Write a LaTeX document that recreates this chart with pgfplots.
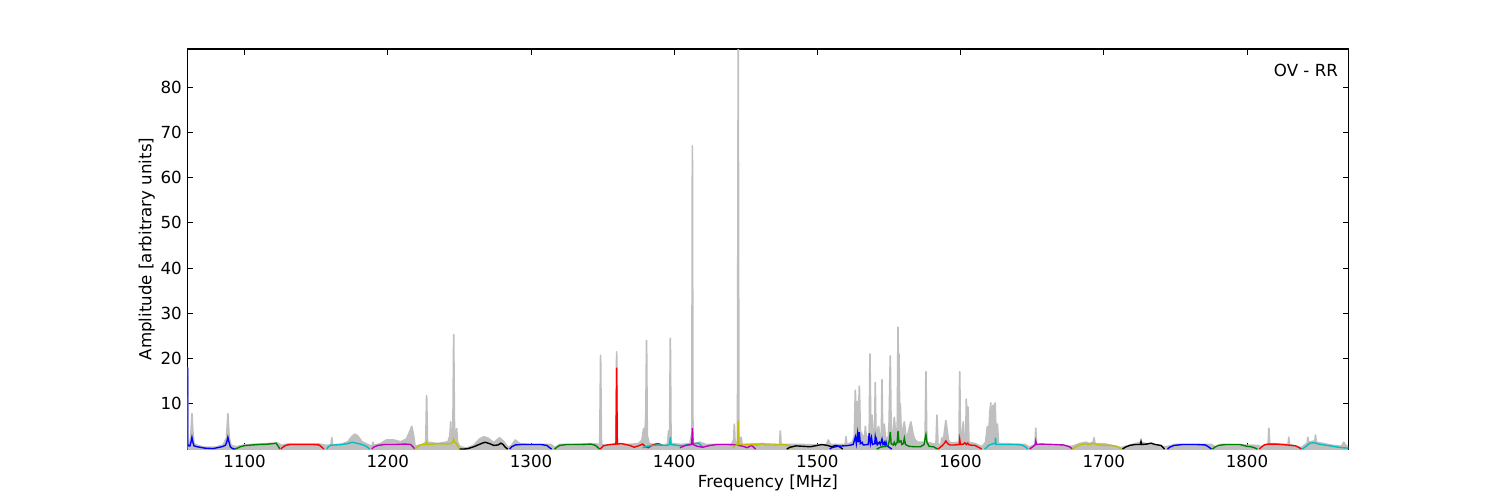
\documentclass[border=0pt,12pt]{standalone}
\usepackage{fontspec}
\setmainfont{DejaVu Sans}
\usepackage{pgfplots}
\pgfplotsset{compat=1.18}
\definecolor{mb}{rgb}{0,0,1}
\definecolor{mg}{rgb}{0,0.5,0}
\definecolor{mr}{rgb}{1,0,0}
\definecolor{mc}{rgb}{0,0.75,0.75}
\definecolor{mm}{rgb}{0.75,0,0.75}
\definecolor{my}{rgb}{0.75,0.75,0}
\definecolor{mk}{rgb}{0,0,0}
\definecolor{gfill}{rgb}{0.75,0.75,0.75}
\begin{document}
\begin{tikzpicture}
\useasboundingbox (-135.1pt,-36.7pt) rectangle (944.9pt,323.3pt);
\begin{axis}[
  at={(0,0)}, anchor=south west,
  scale only axis, width=835.6pt, height=288pt,
  xmin=1060.2, xmax=1870.7, ymin=0, ymax=88.4,
  xtick={1100,1200,...,1800}, ytick={10,20,...,80},
  /pgf/number format/assume math mode=true,
  /pgf/number format/1000 sep={},
  tick align=inside, major tick length=4pt,
  tick style={black, line width=0.6pt},
  axis line style={line width=0.8pt},
  font=\fontsize{12}{14}\selectfont,
  tick label style={font=\fontsize{12}{14}\selectfont},
  xlabel={Frequency [MHz]}, ylabel={Amplitude [arbitrary units]},
  xlabel style={yshift=3pt},
  ylabel style={yshift=-4pt},
  clip=true,
]
% gray spectrum
\addplot[draw=gfill, fill=gfill, line width=1.2pt, line join=round] coordinates {
(1060.2,18)(1060.4,1.5)(1061.8,1)(1062.6,4)(1063.2,7.8)(1063.8,4)(1064.6,1.2)(1067,0.8)(1072,0.4)(1080,0.4)(1085,0.9)
(1087.4,2.5)(1088.3,7.8)(1089.2,2.5)(1090.5,0.8)(1094,0.5)(1100,0.9)(1110,1.1)(1123,1.3)(1126,0.8)(1130,1.1)(1152,1.1)
(1157,0.8)(1160.4,0.9)(1160.9,2.5)(1161.4,0.9)(1168,1.1)(1172,1.6)(1175,2.8)(1177,3.3)(1179,2.9)(1182,1.6)(1186,1.0)
(1189,0.6)(1189.6,1.5)(1190.2,0.8)(1195,1.2)(1199,2.0)(1204,2.0)(1209,1.6)(1213,2.2)(1215.5,4.0)(1216.7,5.0)(1218,3.0)
(1219,0.6)(1224,1.0)(1226.5,1.5)(1227.1,11.8)(1227.7,1.5)(1235,1.2)(1242,1.6)(1243.4,3)(1243.9,6)(1244.4,2)(1245.4,2)
(1246.0,25.3)(1246.6,2.5)(1247.5,3)(1248.1,4.5)(1248.7,1.5)(1250.5,0.5)(1255,0.2)(1260,0.8)(1264,2.2)(1267,2.7)(1270,2.4)
(1274,1.4)(1278,2.5)(1281,1.6)(1284,0.3)(1286.5,0.8)(1289,2)(1292,1.2)(1300,1.0)(1314,1.0)(1316.5,0.3)(1320,1.0)
(1345,1.1)(1348,1.0)(1348.6,20.7)(1349.2,1)(1352,0.8)(1359.3,1.2)(1359.8,21.5)(1360.3,1.2)(1368,1.0)(1375,1.2)
(1377.5,2)(1378.6,4.5)(1379.5,2.5)(1380.2,8)(1380.7,24)(1381.2,3)(1382.5,1.2)(1386,1.0)(1393,0.8)(1395.5,1.2)
(1396.0,4)(1396.5,1.2)(1396.8,3)(1397.3,24.5)(1397.8,1.2)(1405,1.0)(1411,1.2)(1412,3)(1412.3,1.2)(1412.7,67)(1413.1,1.2)
(1418,1.5)(1422,1.0)(1440,1.0)(1441.5,2)(1442.0,5.5)(1442.5,1.5)(1444.2,1.5)(1444.7,88.4)(1445.2,1.5)(1446.8,2.6)
(1447.4,1.0)(1460,1.2)(1473.6,1.0)(1474.1,4)(1474.6,1.0)(1490,1.0)(1506,0.8)(1507.6,2)(1509,1.0)(1519.5,1.0)
(1520.0,2.7)(1520.5,1.0)(1524.5,1.5)(1525.8,3)(1526.5,13)(1527.1,4)(1527.7,10.5)(1528.4,4)(1529.3,13.9)(1530.0,4)
(1531.5,3)(1533.0,2.5)(1533.5,5)(1534.2,2.5)(1536.2,3)(1536.7,21)(1537.3,4)(1538.1,7.5)(1538.9,3)(1540.0,3)
(1540.4,14.7)(1540.9,3)(1542.7,5)(1543.5,3)(1544.7,3)(1545.1,15.3)(1545.6,3)(1546.7,5.5)(1547.5,2.5)(1549.5,2.5)
(1550.1,6)(1550.9,20.6)(1551.5,4)(1552.5,3)(1553.7,7)(1554.7,3)(1555.8,5)(1556.3,26.9)(1556.7,12)(1557.0,21)
(1557.5,6)(1557.9,10)(1558.6,3)(1559.5,4)(1560.7,6)(1562,2.5)(1563,3)(1565.3,6)(1567,3)(1568.3,2)(1570,1.5)
(1575.2,1.5)(1575.8,17.1)(1576.4,1.5)(1582.8,1.0)(1583.5,7.5)(1584.2,1.0)(1586.3,1.0)(1586.8,2.5)(1587.3,1.0)
(1588,2)(1589.7,6.3)(1591.5,2)(1593,1.3)(1598.9,1.5)(1599.4,17.1)(1599.9,2)(1601.2,4)(1601.9,6)(1602.6,2)(1603.6,2)
(1604.0,11)(1604.6,3)(1605.2,9.3)(1605.8,1.5)(1610,1.2)(1615,0.5)(1617.5,1.5)(1618.7,5)(1619.6,2.5)(1620.4,8)
(1621.1,10.2)(1621.8,3)(1622.7,9.7)(1623.4,3)(1624.1,10.2)(1624.8,3)(1625.7,5.5)(1626.5,1.2)(1645,1.0)(1648,0.4)
(1652.0,1.0)(1652.5,4.6)(1653.0,1.0)(1678,0.6)(1683,1.2)(1687.6,1.5)(1690,1.2)(1692.6,1.5)(1693.2,2.5)(1693.8,1.2)
(1700,1.2)(1712,0.3)(1720,1.0)(1726,1.5)(1732,1.0)(1742,0.5)(1745,0.6)(1750,1.0)(1775,1.0)(1778,0.5)(1782,1.0)
(1807,0.8)(1810,0.5)(1814.8,1.2)(1815.3,4.6)(1815.8,1.2)(1828.7,1.0)(1829.2,2.6)(1829.7,1.0)(1838,0.3)(1842,1.3)
(1842.5,2.6)(1843,1.5)(1847.4,1.8)(1847.9,3.1)(1848.4,1.5)(1860,0.8)(1866,0.6)(1867.6,1.5)(1869,0.8)(1870.7,0.5)
} \closedcycle;
% fitted segments
\addplot[mb, line width=1pt] coordinates {(1060.2,18)(1060.3,1)(1061,0.7)(1061.8,0.7)(1062.5,1.5)(1063.2,2.6)(1063.9,1.5)(1064.6,0.7)(1067,0.5)(1072,0.2)(1078,0.1)(1084,0.5)(1086.5,0.8)(1087.5,1.5)(1088.3,2.6)(1089.1,1.5)(1090,0.5)(1091.5,0.1)(1093.2,0)};
\addplot[mg, line width=1pt] coordinates {(1093.2,0)(1095,0.2)(1097,0.5)(1100,0.75)(1105,0.9)(1110,1.0)(1115,1.05)(1120,1.2)(1122,1.3)(1123.5,0.6)(1124.6,0)};
\addplot[mr, line width=1pt] coordinates {(1125.3,0)(1127,0.5)(1129,0.85)(1132,1.0)(1140,1.0)(1148,1.0)(1152,0.9)(1154,0.4)(1155.3,0)};
\addplot[mc, line width=1pt] coordinates {(1157.4,0)(1158.5,0.5)(1160,0.85)(1163,0.9)(1168,1.0)(1172,1.2)(1175,1.5)(1178,1.3)(1182,1.0)(1185,0.6)(1187.4,0)};
\addplot[mm, line width=1pt] coordinates {(1188.8,0)(1190,0.4)(1193,0.8)(1198,1.0)(1205,1.0)(1212,1.1)(1216,1.0)(1217.5,0.5)(1218.8,0)};
\addplot[my, line width=1pt] coordinates {(1218.8,0)(1220,0.3)(1222,0.8)(1224,1.0)(1226.5,1.0)(1227.1,1.5)(1227.7,1.0)(1232,1.1)(1236,1.2)(1240,1.1)(1244,1.2)(1245.5,1.6)(1246,2.2)(1246.6,1.5)(1248,1.2)(1249,0.5)(1250.2,0)};
\addplot[mk, line width=1pt] coordinates {(1250.2,0)(1253,0)(1256,0.1)(1260,0.5)(1263,0.9)(1266,1.3)(1268,1.5)(1271,1.2)(1274,0.8)(1277,0.9)(1279,1.3)(1280.5,1.0)(1282,0.4)(1283.7,0)};
\addplot[mb, line width=1pt] coordinates {(1285.1,0)(1286.5,0.5)(1289,0.9)(1293,1.0)(1300,1.0)(1307,1.0)(1311,0.8)(1313,0.3)(1314.4,0)};
\addplot[mg, line width=1pt] coordinates {(1316.5,0)(1318,0.4)(1320,0.8)(1325,1.0)(1335,1.0)(1342,1.1)(1345,0.8)(1347.9,0)};
\addplot[mr, line width=1pt] coordinates {(1347.9,0)(1349,0.2)(1350.5,0.7)(1353,0.9)(1356,1.0)(1359.3,1.1)(1359.8,18)(1360.3,1.1)(1363,1.2)(1366,1.0)(1369,0.8)(1372,0.4)(1375,0.7)(1378,1.1)(1380,0.5)(1382,0.3)(1385,0.9)(1388,1.2)(1390,1.1)(1391.1,0.8)};
\addplot[mc, line width=1pt] coordinates {(1378,0.3)(1381,0.6)(1385,0.8)(1390,0.9)(1395,0.8)(1396.8,1.0)(1397.3,2.6)(1397.8,1.0)(1402,0.8)(1406,0.7)(1410,1.0)(1414,1.2)(1417,1.3)(1419.7,0.5)};
\addplot[mm, line width=1pt] coordinates {(1404,0.3)(1408,0.8)(1412.2,1.0)(1412.7,4.6)(1413.2,1.0)(1416,0.6)(1420,0.4)(1425,0.8)(1430,1.0)(1438,1.0)(1444,0.9)(1448,0.6)(1451,0.3)(1454,0.8)(1456.9,0)};
\addplot[my, line width=1pt] coordinates {(1440.9,0.3)(1443,0.8)(1444.2,1.0)(1444.7,6.3)(1445.2,1.0)(1450,1.0)(1458,0.9)(1462,1.2)(1463,0.9)(1470,0.9)(1476,1.0)(1480,0.8)(1482.8,0.2)};
\addplot[mk, line width=1pt] coordinates {(1478.6,0)(1481,0.4)(1485,0.7)(1490,0.6)(1495,0.5)(1500,0.8)(1503,1.0)(1507,0.8)(1510,0.5)(1513,0.8)(1515,0.6)(1517.7,0)};
\addplot[mb, line width=1pt] coordinates {(1508.6,0)(1510,0.3)(1514,0.6)(1518,0.7)(1522,0.8)(1525,1.0)(1526.5,2.7)(1527.2,1.2)(1528.1,3.5)(1528.7,1.5)(1529.3,3.7)(1530,1.2)(1531.2,1.5)(1532,0.9)(1535.5,1.0)(1536.2,3.5)(1537,1.2)(1537.8,2.5)(1538.5,1.0)(1540,1.2)(1540.4,2.7)(1541,1.5)(1541.3,2.0)(1542,1.0)(1543.2,1.5)(1544,1.0)(1545.1,2.2)(1545.8,1.0)(1546.7,1.5)(1547.3,0.8)(1547.9,1.5)(1548.5,0.7)(1550,0.4)(1551.9,0)};
\addplot[mg, line width=1pt] coordinates {(1541.4,0)(1544,0.4)(1547,0.6)(1549.5,0.8)(1550.3,2)(1550.9,3.8)(1551.5,1.2)(1553,0.9)(1553.7,1.5)(1554.5,0.9)(1555.7,1.5)(1556.3,4)(1557,1.5)(1558.4,1.8)(1559,1.0)(1560,1.2)(1560.7,2.4)(1561.5,1.0)(1564,0.6)(1568,0.5)(1572,0.5)(1574.5,1.0)(1575.3,2.5)(1575.8,3.2)(1576.5,1.5)(1578,0.6)(1581,0.5)(1584,0)};
\addplot[mr, line width=1pt] coordinates {(1584,0)(1585.5,0.3)(1587,0.7)(1588.5,1.2)(1589.7,1.8)(1591,1.2)(1592.5,0.9)(1596,0.9)(1599,1.0)(1599.4,2.2)(1599.9,1.0)(1602,1.1)(1603,1.4)(1604,1.0)(1605,1.3)(1606,0.9)(1610,0.8)(1613,0.3)(1614.7,0)};
\addplot[mc, line width=1pt] coordinates {(1616.8,0)(1618,0.3)(1619.5,0.8)(1621,1.0)(1623,1.2)(1624.1,1.2)(1624.4,2.5)(1624.8,1.0)(1630,1.0)(1638,1.0)(1643,0.9)(1645.5,0.4)(1646.8,0)};
\addplot[mm, line width=1pt] coordinates {(1648.2,0)(1650,0.4)(1652,0.9)(1652.5,1.8)(1653,1.0)(1656,1.1)(1665,1.0)(1672,0.9)(1676,0.5)(1678.2,0)};
\addplot[my, line width=1pt] coordinates {(1678.2,0)(1680,0.4)(1683,0.9)(1687,1.2)(1690,1.0)(1693,1.3)(1695,1.0)(1700,0.8)(1705,0.8)(1709,0.6)(1712.4,0)};
\addplot[mk, line width=1pt] coordinates {(1713.1,0)(1715,0.4)(1718,0.8)(1722,1.0)(1725.5,1.0)(1726,1.7)(1726.5,1.0)(1730,1.1)(1733,1.3)(1736,1.0)(1740,0.8)(1742.4,0)};
\addplot[mb, line width=1pt] coordinates {(1744.5,0)(1746,0.4)(1749,0.8)(1755,1.0)(1765,1.0)(1771,0.9)(1773.5,0.4)(1775.2,0)};
\addplot[mg, line width=1pt] coordinates {(1775.9,0)(1777.5,0.4)(1780,0.8)(1785,1.0)(1795,1.0)(1800,0.6)(1803,0.5)(1805,0.3)(1807.3,0)};
\addplot[mr, line width=1pt] coordinates {(1808.7,0)(1810,0.4)(1812,0.9)(1815,1.1)(1820,1.1)(1828,0.9)(1834,0.7)(1836.5,0.3)(1838,0)};
\addplot[mc, line width=1pt] coordinates {(1838.7,0)(1840,0.3)(1842,0.8)(1844,1.3)(1847,1.4)(1850,1.1)(1856,0.8)(1862,0.5)(1866,0.3)(1870.7,0.2)};
\node[anchor=east, inner sep=0pt] at ([xshift=-7.2pt,yshift=-15.1pt]rel axis cs:1,1) {OV - RR};
\end{axis}
\end{tikzpicture}
\end{document}
